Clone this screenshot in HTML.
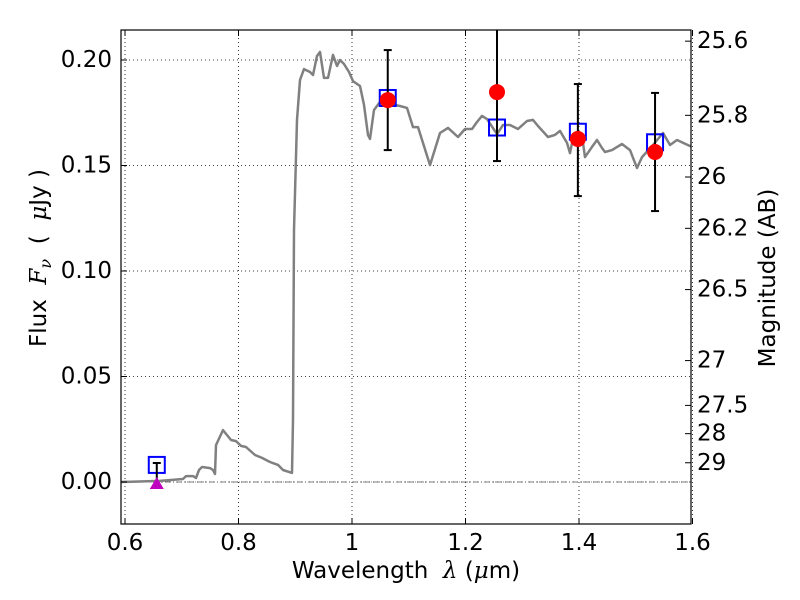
<!DOCTYPE html>
<html><head><meta charset="utf-8"><style>
html,body{margin:0;padding:0;background:#fff;}
svg{display:block;font-family:"DejaVu Sans","Liberation Sans",sans-serif;}
</style></head><body>
<svg id="chart" width="800" height="600"></svg>
<script>
const modelLam=[0.593,0.6617,0.7022,0.7075,0.7198,0.7251,0.7304,0.7357,0.7498,0.7551,0.7586,0.7604,0.7727,0.7868,0.7956,0.8044,0.8132,0.8291,0.8414,0.8555,0.8696,0.8784,0.8943,0.8960,0.8978,0.9031,0.9084,0.9154,0.9260,0.9313,0.9383,0.9436,0.9507,0.9577,0.9665,0.9736,0.9789,0.9859,0.9947,1.0018,1.0141,1.0211,1.0282,1.0317,1.0388,1.0493,1.0670,1.0846,1.0969,1.1075,1.1163,1.1374,1.1551,1.1692,1.1868,1.1991,1.2115,1.2203,1.2291,1.2379,1.2555,1.2661,1.2784,1.2925,1.3084,1.3189,1.3278,1.3454,1.3577,1.3665,1.3789,1.3841,1.3894,1.4053,1.4106,1.4229,1.4317,1.4405,1.4458,1.4581,1.4758,1.4899,1.5022,1.5110,1.5304,1.5480,1.5604,1.5727,1.5991];
const modelFlux=[0,0.0005,0.0014,0.0028,0.0028,0.0019,0.0057,0.0071,0.0066,0.0057,0.0038,0.0175,0.0246,0.0199,0.0194,0.0171,0.0166,0.0128,0.0114,0.0095,0.0081,0.0057,0.0043,0.0294,0.1194,0.1716,0.1905,0.1957,0.1943,0.1929,0.2019,0.2038,0.1915,0.1915,0.2024,0.1972,0.2000,0.1981,0.1943,0.1900,0.1877,0.1787,0.1645,0.1626,0.1763,0.1801,0.1791,0.1782,0.1773,0.1682,0.1682,0.1502,0.1654,0.1678,0.1635,0.1673,0.1673,0.1706,0.1735,0.1720,0.1649,0.1692,0.1692,0.1673,0.1711,0.1716,0.1687,0.1635,0.1645,0.1664,0.1607,0.1559,0.1630,0.1640,0.1540,0.1588,0.1621,0.1583,0.1564,0.1573,0.1602,0.1573,0.1488,0.1540,0.1597,0.1654,0.1597,0.1621,0.1588];
const bandLam=[0.656,1.063,1.2555,1.398,1.534];
const modelPhot=[0.0081,0.182,0.168,0.166,0.161];
const obsLam=[1.063,1.2555,1.398,1.534];
const obsFlux=[0.181,0.1848,0.1626,0.1564];
const obsLo=[0.1573,0.1521,0.1355,0.1284];
const obsHi=[0.2047,0.23,0.1886,0.1844];
const limLam=[0.656];
const limFlux=[0];
const limHi=[0.009];
const xTicks=[0.6,0.8,1.0,1.2,1.4,1.6];
const xTickLabels=["0.6","0.8","1","1.2","1.4","1.6"];
const yTicks=[0,0.05,0.10,0.15,0.20];
const yTickLabels=["0.00","0.05","0.10","0.15","0.20"];
const magTicks=[25.6,25.8,26,26.2,26.5,27,27.5,28,29];
const magLabels=["25.6","25.8","26","26.2","26.5","27","27.5","28","29"];

const L=121,R=691,T=30,B=524;
const X=v=>125+(v-0.6)*567.5;
const Y=v=>482-v*2110;
const svg=document.getElementById('chart');
const NS='http://www.w3.org/2000/svg';
function mk(tag,attrs,parent){const e=document.createElementNS(NS,tag);for(const k in attrs)e.setAttribute(k,attrs[k]);(parent||svg).appendChild(e);return e;}

const defs=mk('defs',{});
const cp=mk('clipPath',{id:'clip'},defs);mk('rect',{x:L,y:T,width:R-L,height:B-T},cp);

const grid=mk('g',{});


xTicks.forEach(v=>{mk('line',{x1:X(v),x2:X(v),y1:T,y2:B,stroke:'#000','stroke-width':0.8,'stroke-dasharray':'1,3'},grid);});
yTicks.forEach(v=>{mk('line',{x1:L,x2:R,y1:Y(v),y2:Y(v),stroke:'#000','stroke-width':0.8,'stroke-dasharray':'1,3'},grid);});

const plot=mk('g',{'clip-path':'url(#clip)'});
const zl=mk('line',{x1:L,x2:R,y1:Y(0),y2:Y(0),stroke:'#555','stroke-width':0.8,'stroke-dasharray':'6,2,1,2'},plot);


let d='';modelLam.forEach((l,i)=>{d+=(i?'L':'M')+X(l).toFixed(1)+' '+Y(modelFlux[i]).toFixed(1);});
const ml=mk('path',{d:d,fill:'none',stroke:'#808080','stroke-width':2.5,'stroke-linejoin':'round'},plot);


bandLam.forEach((l,i)=>{const s=mk('rect',{x:X(l)-8,y:Y(modelPhot[i])-8,width:16,height:16,fill:'none',stroke:'#0000ff','stroke-width':2},plot);

});
limLam.forEach((l,i)=>{
 const e=mk('line',{x1:X(l),x2:X(l),y1:Y(limHi[i]),y2:Y(limFlux[i]),stroke:'#000','stroke-width':2},plot);
 
 
 mk('line',{x1:X(l)-4,x2:X(l)+4,y1:Y(limHi[i]),y2:Y(limHi[i]),stroke:'#000','stroke-width':2},plot);
 const cx=X(l),cy=Y(limFlux[i]);
 const t=mk('polygon',{points:`${cx},${cy-5} ${cx-7},${cy+7} ${cx+7},${cy+7}`,fill:'#bf00bf'},plot);
 
 
});
obsLam.forEach((l,i)=>{
 const x=X(l);
 const e=mk('line',{x1:x,x2:x,y1:Y(obsHi[i]),y2:Y(obsLo[i]),stroke:'#000','stroke-width':2},plot);
 
 
 mk('line',{x1:x-4,x2:x+4,y1:Y(obsHi[i]),y2:Y(obsHi[i]),stroke:'#000','stroke-width':2},plot);
 mk('line',{x1:x-4,x2:x+4,y1:Y(obsLo[i]),y2:Y(obsLo[i]),stroke:'#000','stroke-width':2},plot);
 const c=mk('circle',{cx:x,cy:Y(obsFlux[i]),r:8,fill:'#ff0000'},plot);
 
 
});
const fr=mk('rect',{x:L,y:T,width:R-L,height:B-T,fill:'none',stroke:'#000','stroke-width':1.2});


xTicks.forEach((v,i)=>{
 mk('line',{x1:X(v),x2:X(v),y1:B,y2:B-6,stroke:'#000'});
 mk('line',{x1:X(v),x2:X(v),y1:T,y2:T+6,stroke:'#000'});
 const t=mk('text',{x:X(v),y:550,'text-anchor':'middle','font-size':23});
 t.textContent=xTickLabels[i];
 
 
});
yTicks.forEach((v,i)=>{
 mk('line',{x1:L,x2:L+6,y1:Y(v),y2:Y(v),stroke:'#000'});
 const t=mk('text',{x:L-9,y:Y(v)+7,'text-anchor':'end','font-size':23});
 t.textContent=yTickLabels[i];
 
 
});
magTicks.forEach((m,i)=>{
 const f=Math.pow(10,(23.9-m)/2.5);const y=Y(f);
 mk('line',{x1:R,x2:R-6,y1:y,y2:y,stroke:'#000'});
 const t=mk('text',{x:R+6,y:y+7,'font-size':23});
 t.textContent=magLabels[i];
 
 
});
const xl=mk('text',{x:406,y:578,'text-anchor':'middle','font-size':23});
xl.innerHTML='Wavelength&#160;&#160;<tspan font-style="italic" font-family="DejaVu Serif, serif">λ</tspan>&#160;(<tspan font-style="italic" font-family="DejaVu Serif, serif">μ</tspan>m)';


const yl=mk('text',{x:0,y:0,'text-anchor':'middle','font-size':23,transform:'translate(46,258) rotate(-90)'});
yl.innerHTML='Flux&#160;&#160;<tspan font-style="italic" font-family="DejaVu Serif, serif">F</tspan><tspan font-style="italic" font-family="DejaVu Serif, serif" font-size="16" dy="5">ν</tspan><tspan dy="-5">&#160;&#160;(&#160;&#160;</tspan><tspan font-style="italic" font-family="DejaVu Serif, serif">μ</tspan>Jy&#160;)';


const rl=mk('text',{x:0,y:0,'text-anchor':'middle','font-size':23,transform:'translate(775,278) rotate(-90)'});
rl.textContent='Magnitude (AB)';


</script>
</body></html>
